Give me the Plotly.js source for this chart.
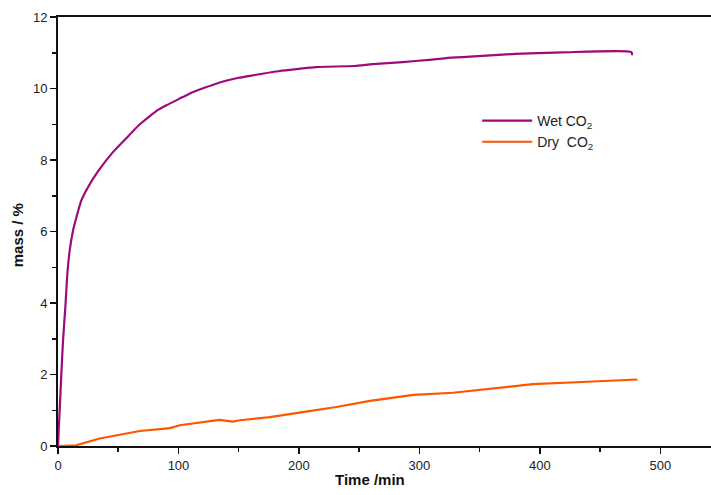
<!DOCTYPE html>
<html>
<head>
<meta charset="utf-8">
<script src="https://cdn.plot.ly/plotly-3.0.1.min.js"></script>
<style>html,body{margin:0;padding:0;background:#fff;}#chart{width:711px;height:495px;}</style>
</head>
<body>
<div id="chart"></div>
<script>
const wetTime = [0, 0.5, 1.4, 2.8, 4.2, 6.1, 7.8, 9.7, 12.5, 15.3, 19.4, 24.9, 33.2, 45.6, 55, 62, 68, 76, 83, 90, 103.6, 110, 117.6, 130, 141, 150, 162, 184, 200, 214, 246, 261, 286, 308, 322, 342, 369, 391, 419, 476, 476.5];
const wetMass = [0, 0.4, 1.0, 2.03, 2.96, 3.89, 4.83, 5.47, 6.03, 6.4, 6.87, 7.24, 7.68, 8.22, 8.55, 8.8, 9.0, 9.22, 9.4, 9.53, 9.76, 9.87, 9.97, 10.12, 10.23, 10.3, 10.37, 10.49, 10.55, 10.6, 10.63, 10.68, 10.74, 10.8, 10.85, 10.89, 10.95, 10.98, 11.01, 11.02, 10.93];
const dryTime = [0, 8, 15, 34.6, 67.8, 93, 101, 134, 145, 151, 176, 203, 231, 259, 284, 295, 328, 358, 394, 435, 460, 481];
const dryMass = [0, 0, 0.02, 0.21, 0.42, 0.5, 0.58, 0.73, 0.68, 0.72, 0.81, 0.95, 1.09, 1.26, 1.37, 1.43, 1.49, 1.6, 1.73, 1.79, 1.82, 1.86];
const seriesNames = ["Wet CO<sub>2</sub>", "Dry  CO<sub>2</sub>"];
const xTitle = "Time /min";
const yTitle = "mass / %";

const traces = [
  {x: wetTime, y: wetMass, name: seriesNames[0], mode: "lines", line: {color: "#9e0a7c", width: 2.2, shape: "spline", smoothing: 0.6}},
  {x: dryTime, y: dryMass, name: seriesNames[1], mode: "lines", line: {color: "#ff5400", width: 2.2}}
];
const axisFont = {family: "Liberation Sans, Arial, sans-serif", size: 13, color: "#222"};
const layout = {
  width: 711, height: 495,
  margin: {l: 58, r: 0, t: 17, b: 49},
  paper_bgcolor: "#fff", plot_bgcolor: "#fff",
  showlegend: true,
  legend: {x: 0.642, y: 0.795, xanchor: "left", yanchor: "top", bgcolor: "rgba(0,0,0,0)", itemwidth: 50,
           font: {family: "Liberation Sans, Arial, sans-serif", size: 14, color: "#222"}, tracegroupgap: 0},
  xaxis: {range: [0, 542], tickvals: [0,100,200,300,400,500], showgrid: false, zeroline: false,
          showline: true, linecolor: "#111", linewidth: 2, mirror: true,
          ticks: "outside", ticklen: 6, tickwidth: 1.5, tickcolor: "#111", tickfont: axisFont,
          minor: {dtick: 50, tick0: 0, ticks: "outside", ticklen: 4, tickwidth: 1.5, tickcolor: "#111", showgrid: false}},
  yaxis: {range: [0, 12], tickvals: [0,2,4,6,8,10,12], showgrid: false, zeroline: false,
          showline: true, linecolor: "#111", linewidth: 2,
          ticks: "outside", ticklen: 6, tickwidth: 1.5, tickcolor: "#111", tickfont: axisFont,
          minor: {dtick: 1, tick0: 0, ticks: "outside", ticklen: 4, tickwidth: 1.5, tickcolor: "#111", showgrid: false}},
  annotations: [
    {text: "<b>" + xTitle + "</b>", xref: "paper", yref: "paper", x: 0.478, y: -0.078, xanchor: "center", yanchor: "middle",
     showarrow: false, font: {family: "Liberation Sans, Arial, sans-serif", size: 15, color: "#111"}},
    {text: "<b>" + yTitle + "</b>", xref: "paper", yref: "paper", x: -0.062, y: 0.49, xanchor: "center", yanchor: "middle",
     textangle: -90, showarrow: false, font: {family: "Liberation Sans, Arial, sans-serif", size: 15, color: "#111"}}
  ]
};
Plotly.newPlot("chart", traces, layout, {displayModeBar: false, staticPlot: true});
</script>
</body>
</html>
